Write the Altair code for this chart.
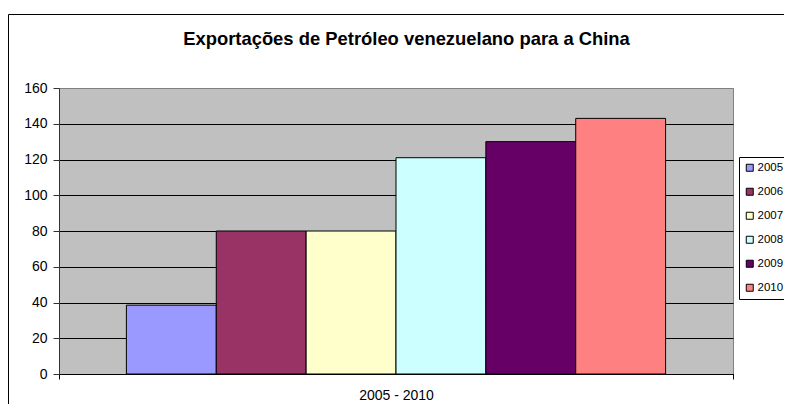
import altair as alt
import pandas as pd

title_text = "Exportações de Petróleo venezuelano para a China"
category = "2005 - 2010"
years = ["2005", "2006", "2007", "2008", "2009", "2010"]
values = [38.5, 80, 80, 121, 130, 143]
colors = ["#9999FF", "#993366", "#FFFFCC", "#CCFFFF", "#660066", "#FF8080"]
y_ticks = [0, 20, 40, 60, 80, 100, 120, 140, 160]

FONT = "Liberation Sans, Arial, sans-serif"

df = pd.DataFrame({"periodo": [category] * len(years), "ano": years, "valor": values})
deco = pd.DataFrame({"k": [0]})

W, H = 674, 286

bars = alt.Chart(df).mark_bar(stroke="black", strokeWidth=1).encode(
    x=alt.X(
        "periodo:N",
        title=None,
        scale=alt.Scale(paddingInner=0, paddingOuter=0),
        axis=alt.Axis(
            labelAngle=0, tickBand="extent", tickSize=5, tickColor="black",
            domainColor="black", labelPadding=9, labelFontSize=14,
            labelColor="black", labelFont=FONT, grid=False,
        ),
    ),
    xOffset=alt.XOffset("ano:N", scale=alt.Scale(paddingInner=0, paddingOuter=0.75)),
    y=alt.Y(
        "valor:Q",
        title=None,
        scale=alt.Scale(domain=[0, 160], nice=False),
        axis=alt.Axis(
            values=y_ticks, tickSize=6, tickColor="#333333", domainColor="#333333",
            labelPadding=6, labelFontSize=14, labelColor="black", labelFont=FONT,
            grid=True,
            gridColor={"condition": {"test": "datum.value === 160", "value": "#808080"}, "value": "black"},
            gridWidth=1,
        ),
    ),
    color=alt.Color(
        "ano:N",
        scale=alt.Scale(domain=years, range=colors),
        legend=alt.Legend(
            title=None, orient="none", legendX=680, legendY=69,
            fillColor="white", strokeColor="black", padding=5,
            symbolType="square", symbolSize=49, symbolStrokeColor="black",
            symbolStrokeWidth=1, labelOffset=2, rowPadding=11,
            labelFontSize=11.5, labelFont=FONT, labelColor="black",
        ),
    ),
)

frame = alt.Chart(deco).mark_rect(filled=False, stroke="black", strokeWidth=1).encode(
    x=alt.value(-50.5), x2=alt.value(780), y=alt.value(-73.5), y2=alt.value(360)
)

title = alt.Chart(deco).mark_text(
    fontSize=18.4, fontWeight="bold", font=FONT, align="center",
    baseline="alphabetic", color="black",
).encode(x=alt.value(347.5), y=alt.value(-43), text=alt.value(title_text))

chart = alt.layer(frame, bars, title).properties(
    width=W, height=H,
    autosize=alt.AutoSizeParams(type="none"),
    padding={"left": 51, "top": 80, "right": 51, "bottom": 30},
    background="white",
).configure_view(fill="#C0C0C0", stroke="#808080")

chart.save("out.html", embed_options={"renderer": "svg", "actions": False})
